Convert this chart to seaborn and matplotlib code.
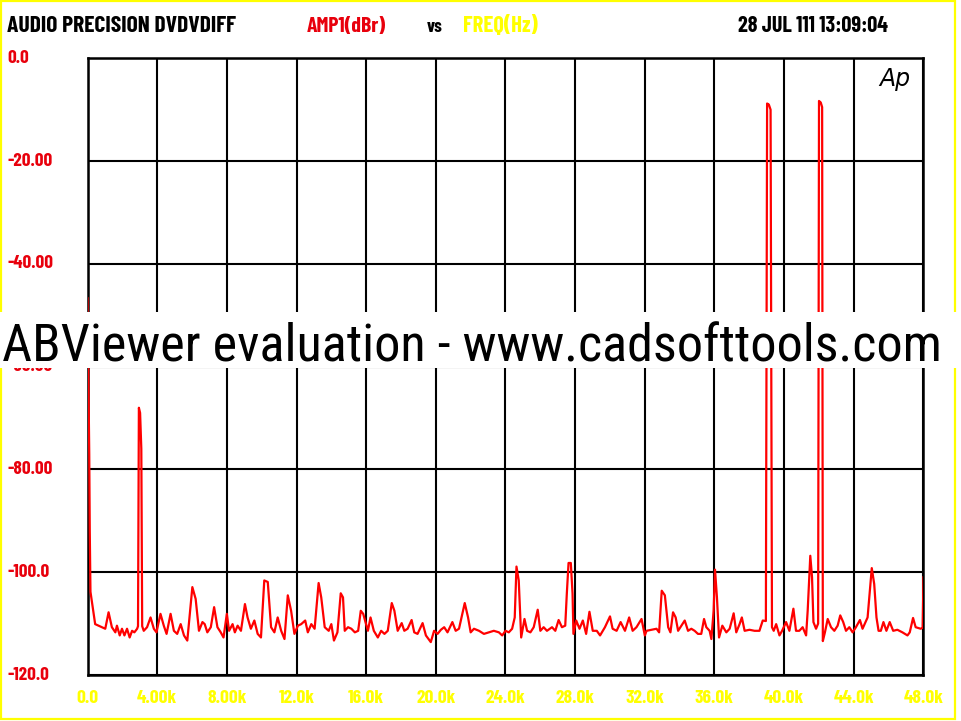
import matplotlib
matplotlib.use("Agg")
import matplotlib.pyplot as plt
from matplotlib.patches import Rectangle
from matplotlib.transforms import blended_transform_factory
import seaborn as sns
import pandas as pd

# ---------------- data ----------------
freq_k = [
    0.00, 0.05, 0.10, 0.13, 0.17, 0.44, 0.63, 0.83, 1.02, 1.21, 1.40, 1.60, 1.69, 1.85, 1.98,
    2.12, 2.27, 2.42, 2.56, 2.69, 2.85, 2.90, 2.95, 3.02, 3.09, 3.14, 3.23, 3.42, 3.62, 3.81,
    3.96, 4.19, 4.38, 4.54, 4.77, 4.96, 5.15, 5.35, 5.54, 5.73, 6.02, 6.21, 6.40, 6.60, 6.73,
    6.88, 7.08, 7.27, 7.46, 7.65, 7.81, 8.00, 8.13, 8.33, 8.46, 8.62, 8.81, 9.04, 9.19, 9.38,
    9.58, 9.77, 9.96, 10.15, 10.35, 10.54, 10.73, 10.92, 11.12, 11.31, 11.50, 11.69, 11.88,
    12.08, 12.27, 12.50, 12.65, 12.85, 13.04, 13.27, 13.42, 13.62, 13.85, 14.00, 14.15, 14.35,
    14.54, 14.67, 14.77, 14.96, 15.15, 15.35, 15.54, 15.69, 15.83, 16.02, 16.10, 16.25, 16.44,
    16.67, 16.86, 17.05, 17.24, 17.47, 17.62, 17.81, 18.04, 18.19, 18.38, 18.61, 18.76, 18.95,
    19.24, 19.43, 19.71, 19.90, 20.10, 20.29, 20.48, 20.67, 20.95, 21.14, 21.33, 21.66, 21.85,
    22.00, 22.19, 22.48, 22.76, 23.05, 23.33, 23.62, 23.81, 24.00, 24.19, 24.38, 24.53, 24.63,
    24.76, 24.90, 25.09, 25.24, 25.43, 25.62, 25.85, 26.00, 26.19, 26.38, 26.67, 26.86, 27.05,
    27.24, 27.43, 27.52, 27.62, 27.75, 27.85, 27.90, 28.06, 28.25, 28.44, 28.63, 28.82, 29.01,
    29.24, 29.43, 29.71, 30.00, 30.15, 30.38, 30.61, 30.86, 31.10, 31.30, 31.52, 31.81, 32.00,
    32.10, 32.38, 32.67, 32.82, 32.97, 33.15, 33.34, 33.47, 33.62, 33.77, 33.91, 34.10, 34.29,
    34.48, 34.67, 34.86, 35.05, 35.24, 35.40, 35.53, 35.72, 35.82, 35.95, 36.03, 36.14, 36.26,
    36.45, 36.68, 36.87, 37.10, 37.25, 37.44, 37.57, 37.73, 38.01, 38.30, 38.58, 38.77, 38.95,
    39.02, 39.12, 39.22, 39.30, 39.40, 39.54, 39.73, 39.88, 40.11, 40.30, 40.53, 40.68, 40.87,
    41.06, 41.26, 41.35, 41.50, 41.60, 41.68, 41.83, 41.95, 42.00, 42.10, 42.18, 42.22, 42.34,
    42.50, 42.69, 42.88, 43.07, 43.22, 43.39, 43.55, 43.74, 43.93, 44.12, 44.35, 44.50, 44.79,
    44.92, 45.03, 45.17, 45.30, 45.42, 45.55, 45.70, 45.87, 46.06, 46.26, 46.50, 46.79, 47.08,
    47.21, 47.40, 47.55, 47.84, 47.95, 48.00,
]
amp_dbr = [
    -46.6, -62.0, -77.0, -92.0, -103.8, -110.1, -110.4, -110.7, -111.0, -107.8, -110.7, -111.7, -110.4, -112.3, -111.0,
    -112.3, -111.0, -112.7, -111.4, -111.7, -111.0, -110.5, -68.0, -69.0, -76.0, -110.5, -111.4, -110.7, -108.8, -111.0,
    -111.7, -108.1, -110.4, -112.0, -108.1, -111.4, -112.0, -110.1, -112.3, -113.3, -102.9, -105.2, -111.4, -109.7, -110.1,
    -111.7, -110.7, -106.8, -110.7, -111.7, -112.7, -108.1, -111.4, -110.1, -111.7, -110.4, -111.4, -106.2, -108.8, -111.0,
    -109.4, -112.0, -112.7, -101.6, -101.9, -110.7, -111.7, -108.8, -111.4, -113.0, -104.5, -107.5, -112.0,
    -110.4, -110.1, -109.4, -111.7, -110.1, -111.0, -102.1, -104.9, -110.7, -111.4, -110.1, -113.3, -111.7,
    -104.1, -104.9, -111.4, -110.7, -111.0, -111.7, -111.4, -107.5, -108.1, -110.4, -111.4, -108.8, -111.4,
    -112.7, -111.4, -112.0, -111.4, -106.0, -107.5, -111.4, -109.9, -111.4, -111.0, -109.3, -111.7, -112.0,
    -109.9, -112.3, -113.6, -111.4, -112.0, -111.2, -110.7, -111.7, -109.7, -111.4, -111.0, -106.0, -108.8,
    -111.7, -111.0, -111.4, -112.0, -111.7, -111.4, -111.7, -112.3, -111.4, -111.7, -111.0, -108.8, -98.9,
    -101.6, -112.7, -109.1, -111.4, -111.7, -110.7, -107.3, -111.4, -110.7, -111.4, -110.7, -111.4, -109.3,
    -110.7, -110.4, -104.2, -98.2, -98.2, -104.2, -112.0, -109.4, -111.0, -109.4, -112.0, -107.7, -111.4,
    -111.4, -112.3, -110.7, -108.6, -111.0, -111.4, -109.7, -111.4, -108.8, -111.4, -110.7, -109.1, -112.3,
    -111.4, -111.2, -111.0, -111.7, -103.6, -104.5, -110.7, -111.7, -107.8, -108.8, -111.4, -110.4, -109.4,
    -111.4, -111.0, -111.4, -112.0, -112.0, -109.1, -110.7, -111.4, -113.0, -107.5, -99.5, -104.9, -112.7,
    -110.4, -111.7, -111.0, -108.0, -111.7, -110.1, -108.8, -111.4, -111.2, -111.4, -111.4, -109.4, -109.5,
    -8.8, -9.0, -10.0, -110.7, -111.4, -110.1, -112.3, -111.4, -109.7, -111.4, -107.1, -111.4, -111.4,
    -110.7, -112.3, -107.5, -96.8, -101.0, -109.7, -111.0, -110.0, -8.3, -8.6, -9.5, -113.4, -111.7,
    -109.1, -110.7, -111.4, -110.4, -108.4, -109.7, -111.4, -110.7, -111.7, -110.7, -109.3, -111.0, -108.8,
    -103.6, -99.2, -102.3, -108.8, -111.4, -111.4, -109.7, -111.4, -109.7, -111.4, -111.2, -111.7, -112.3,
    -111.7, -108.9, -110.7, -111.0, -110.8, -100.9,
]

y_ticks = [0, -20, -40, -60, -80, -100, -120]
y_tick_labels = ["0.0", "-20.00", "-40.00", "-60.00", "-80.00", "-100.0", "-120.0"]
x_ticks_k = [0, 4, 8, 12, 16, 20, 24, 28, 32, 36, 40, 44, 48]
x_tick_labels = ["0.0", "4.00k", "8.00k", "12.0k", "16.0k", "20.0k", "24.0k",
                 "28.0k", "32.0k", "36.0k", "40.0k", "44.0k", "48.0k"]

header_title = "AUDIO PRECISION DVDVDIFF"
header_y = "AMP1(dBr)"
header_vs = "vs"
header_x = "FREQ(Hz)"
header_date = "28 JUL 111 13:09:04"
watermark = "ABViewer evaluation - www.cadsofttools.com"

# ---------------- style ----------------
sns.set_style("white")
NARROW = ["Barlow Condensed", "Liberation Sans", "DejaVu Sans"]
WMFONT = ["Roboto Condensed", "Liberation Sans", "DejaVu Sans"]
plt.rcParams["font.family"] = NARROW

RED = "#ff0000"
LBL_RED = "#e8000c"
YELLOW = "#ffff00"

W, H = 961, 721
fig = plt.figure(figsize=(W / 100, H / 100), dpi=100)
fig.patch.set_facecolor("white")

def fx(px):
    return px / W

def fy(py):
    return 1 - py / H

left, right, top, bottom = 87.5, 923.5, 58.3, 675.0
ax = fig.add_axes([fx(left), fy(bottom), fx(right) - fx(left), fy(top) - fy(bottom)])
ax.set_facecolor("white")

df = pd.DataFrame({"freq": [f * 1000 for f in freq_k], "amp": amp_dbr})
sns.lineplot(data=df, x="freq", y="amp", ax=ax, color=RED, linewidth=1.6,
             estimator=None, sort=False, zorder=3)

ax.set_xlim(0, 48000)
ax.set_ylim(-120, 0)
ax.set_xlabel("")
ax.set_ylabel("")
ax.set_xticks([k * 1000 for k in x_ticks_k])
ax.set_yticks(y_ticks)
ax.grid(True, color="black", linewidth=1.5)
ax.set_axisbelow(True)
for s in ax.spines.values():
    s.set_color("black")
    s.set_linewidth(1.8)
    s.set_visible(True)
ax.set_yticklabels([])
ax.tick_params(axis="y", length=0)
ax.set_xticklabels(x_tick_labels)
ax.tick_params(axis="x", length=0, pad=11, colors=YELLOW, labelsize=14)
for t in ax.get_xticklabels():
    t.set_fontweight("bold")
    t.set_color(YELLOW)

renderer = fig.canvas.get_renderer()

def fit(t, width_px):
    w = t.get_window_extent(renderer).width
    if w > 0:
        t.set_fontsize(t.get_fontsize() * width_px / w)

# x tick label size fitted to "48.0k" ~ 40 px wide
lbl48 = ax.get_xticklabels()[-1]
w48 = lbl48.get_window_extent(renderer).width
if w48 > 0:
    ax.tick_params(axis="x", labelsize=14 * 40 / w48)

# y labels (red) at the left edge
trans = blended_transform_factory(fig.transFigure, ax.transData)
ylabels = []
for v, s in zip(y_ticks, y_tick_labels):
    t = ax.text(fx(7), v, s, transform=trans, ha="left", va="center",
                color=LBL_RED, fontsize=14, fontweight="bold", clip_on=False)
    ylabels.append(t)
w20 = ylabels[1].get_window_extent(renderer).width
ys = 14 * 45 / w20 if w20 > 0 else 14
for t in ylabels:
    t.set_fontsize(ys)

# header
def header(x0, s, color, width_px):
    t = fig.text(fx(x0), fy(32), s, ha="left", va="baseline", color=color,
                 fontsize=14, fontweight="bold")
    fit(t, width_px)
    return t

header(7, header_title, "black", 230)
header(307, header_y, LBL_RED, 80)
header(427, header_vs, "black", 16)
header(463, header_x, YELLOW, 75)
header(738, header_date, "black", 151)

# Ap logo
fig.text(fx(879), fy(86), "Ap", ha="left", va="baseline", color="black",
         fontsize=17, fontstyle="italic", family=["DejaVu Sans"])

# yellow outer frame
fig.add_artist(Rectangle((fx(1), fy(719)), fx(955) - fx(1), fy(1) - fy(719),
                         transform=fig.transFigure, fill=False,
                         edgecolor=YELLOW, linewidth=1.6, zorder=5))

# watermark band
fig.add_artist(Rectangle((0, fy(368)), 1, fy(312) - fy(368), transform=fig.transFigure,
                         facecolor="white", edgecolor="none", zorder=20))
wm = fig.text(fx(2), fy(361), watermark, ha="left", va="baseline", color="black",
              fontsize=40, zorder=21, family=WMFONT)
fit(wm, 941)

fig.savefig("out.png", dpi=100, facecolor="white")
